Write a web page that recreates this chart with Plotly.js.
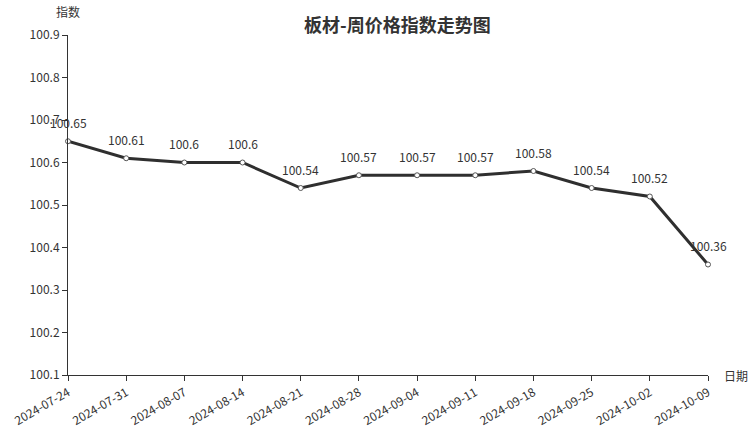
<!DOCTYPE html>
<html><head><meta charset="utf-8">
<script src="https://cdn.plot.ly/plotly-3.0.1.min.js"></script>
<style>body{margin:0;background:#fff}#c{width:752px;height:427px}</style>
</head><body><div id="c"></div>
<script>
const dates = ["2024-07-24","2024-07-31","2024-08-07","2024-08-14","2024-08-21","2024-08-28","2024-09-04","2024-09-11","2024-09-18","2024-09-25","2024-10-02","2024-10-09"];
const values = [100.65,100.61,100.6,100.6,100.54,100.57,100.57,100.57,100.58,100.54,100.52,100.36];
const yTicks = [100.1,100.2,100.3,100.4,100.5,100.6,100.7,100.8,100.9];
const F = "Noto Sans CJK SC, Noto Sans, sans-serif";
const trace = {
  x: dates, y: values, type: "scatter", mode: "lines+markers",
  line: {color: "#2f2f2f", width: 3},
  marker: {size: 5, color: "#fff", line: {color: "#555", width: 1}},
  cliponaxis: false, hoverinfo: "x+y"
};
const labelAnns = dates.map((d, i) => ({
  x: d, y: values[i], xref: "x", yref: "y", text: String(values[i]), showarrow: false,
  yshift: 19, xanchor: "center", yanchor: "middle",
  font: {family: F, size: 12, color: "#333"}
}));
const layout = {
  width: 752, height: 427, margin: {l: 68, r: 44, t: 35, b: 52},
  paper_bgcolor: "#fff", plot_bgcolor: "#fff", showlegend: false,
  font: {family: F, size: 12, color: "#333"},
  xaxis: {type: "category", range: [0, dates.length - 1], showgrid: false, zeroline: false,
    showline: true, linecolor: "#333", linewidth: 1, ticks: "outside", ticklen: 5, tickcolor: "#333",
    tickangle: -30, tickfont: {family: F, size: 12, color: "#333"}},
  yaxis: {range: [100.1, 100.9], tickvals: yTicks, ticktext: yTicks.map(v => v.toFixed(1)),
    showgrid: false, zeroline: false, showline: true, linecolor: "#333", linewidth: 1,
    ticks: "outside", ticklen: 5, tickcolor: "#333", tickfont: {family: F, size: 12, color: "#333"}},
  annotations: labelAnns.concat([
    {text: "<b>板材-周价格指数走势图</b>", xref: "paper", yref: "paper", x: 0.515, y: 1, yshift: 11,
     xanchor: "center", yanchor: "middle", showarrow: false, font: {family: F, size: 18, color: "#333"}},
    {text: "指数", xref: "paper", yref: "paper", x: 0, y: 1, yshift: 13, xanchor: "center", yanchor: "bottom",
     showarrow: false, font: {family: F, size: 12, color: "#333"}},
    {text: "日期", xref: "paper", yref: "paper", x: 1, y: 0, xshift: 14, xanchor: "left", yanchor: "middle",
     showarrow: false, font: {family: F, size: 12, color: "#333"}}
  ])
};
Plotly.newPlot("c", [trace], layout, {displayModeBar: false, staticPlot: true});
</script></body></html>
